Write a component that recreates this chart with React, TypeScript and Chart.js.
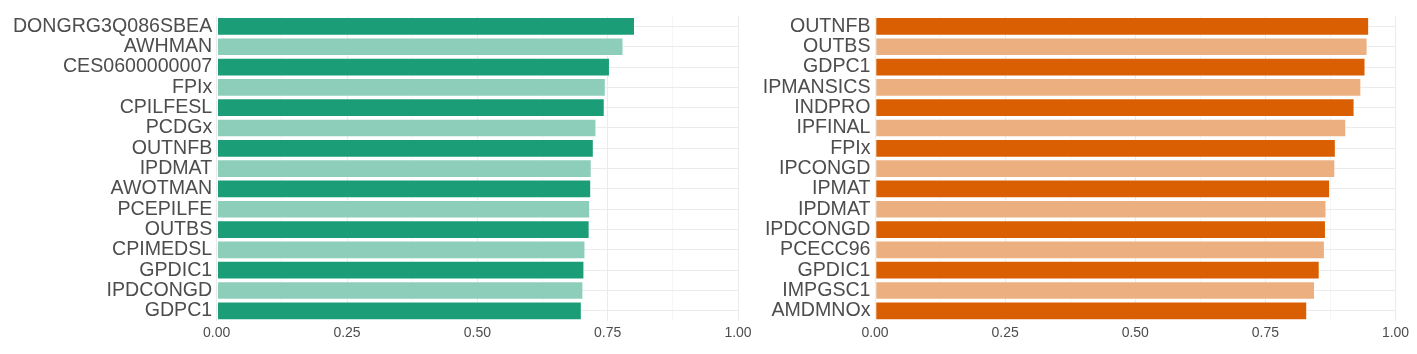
import React, { useEffect, useRef } from "react";
import { Chart, registerables } from "chart.js";
Chart.register(...registerables);

const leftCategories = [
  "DONGRG3Q086SBEA", "AWHMAN", "CES0600000007", "FPIx", "CPILFESL",
  "PCDGx", "OUTNFB", "IPDMAT", "AWOTMAN", "PCEPILFE",
  "OUTBS", "CPIMEDSL", "GPDIC1", "IPDCONGD", "GDPC1",
];
const leftValues = [
  0.802, 0.780, 0.754, 0.746, 0.744,
  0.728, 0.723, 0.719, 0.718, 0.716,
  0.715, 0.707, 0.705, 0.703, 0.700,
];
const rightCategories = [
  "OUTNFB", "OUTBS", "GDPC1", "IPMANSICS", "INDPRO",
  "IPFINAL", "FPIx", "IPCONGD", "IPMAT", "IPDMAT",
  "IPDCONGD", "PCECC96", "GPDIC1", "IMPGSC1", "AMDMNOx",
];
const rightValues = [
  0.949, 0.946, 0.942, 0.934, 0.921,
  0.905, 0.885, 0.884, 0.874, 0.867,
  0.866, 0.864, 0.854, 0.845, 0.830,
];
const xTickValues = [0, 0.25, 0.5, 0.75, 1];
const xTickLabels = ["0.00", "0.25", "0.50", "0.75", "1.00"];

const FONT = "'Liberation Sans', Arial, Helvetica, sans-serif";
const TEXT = "#4D4D4D";

function majorIndex(v: number) {
  return xTickValues.findIndex((t) => Math.abs(t - v) < 1e-6);
}

function makePanel(
  canvas: HTMLCanvasElement,
  cats: string[],
  vals: number[],
  dark: string,
  light: string,
  yAxisWidth: number,
  padRight: number
) {
  return new Chart(canvas, {
    type: "bar",
    data: {
      labels: cats,
      datasets: [
        {
          data: vals,
          backgroundColor: vals.map((_, i) => (i % 2 === 0 ? dark : light)),
          borderColor: "rgba(255,255,255,0.55)",
          borderWidth: 0.8,
          borderSkipped: false,
          barPercentage: 0.9,
          categoryPercentage: 1.0,
        },
      ],
    },
    options: {
      indexAxis: "y",
      responsive: false,
      animation: false,
      devicePixelRatio: 1,
      layout: { padding: { left: 0, right: padRight, top: 14, bottom: 2 } },
      plugins: { legend: { display: false }, tooltip: { enabled: false } },
      scales: {
        x: {
          type: "linear",
          min: 0,
          max: 1,
          border: { display: false },
          grid: {
            drawTicks: false,
            color: (ctx: any) =>
              ctx.tick && majorIndex(ctx.tick.value) >= 0 ? "#EBEBEB" : "#F3F3F3",
            lineWidth: (ctx: any) =>
              ctx.tick && majorIndex(ctx.tick.value) >= 0 ? 1 : 0.8,
          },
          ticks: {
            stepSize: 0.125,
            autoSkip: false,
            maxRotation: 0,
            padding: 4,
            color: TEXT,
            font: { family: FONT, size: 14 },
            callback: (v: any) => {
              const i = majorIndex(Number(v));
              return i >= 0 ? xTickLabels[i] : "";
            },
          },
          afterFit: (s: any) => {
            s.height = 31;
          },
        },
        y: {
          type: "category",
          offset: true,
          border: { display: false },
          grid: { offset: false, drawTicks: false, color: "#EBEBEB", lineWidth: 1 },
          ticks: {
            autoSkip: false,
            padding: 4.5,
            color: TEXT,
            font: { family: FONT, size: 19.6 },
          },
          afterFit: (s: any) => {
            s.width = yAxisWidth;
          },
        },
      },
    },
  } as any);
}

export default function App() {
  const leftRef = useRef<HTMLCanvasElement>(null);
  const rightRef = useRef<HTMLCanvasElement>(null);

  useEffect(() => {
    const l = makePanel(leftRef.current!, leftCategories, leftValues, "#1B9E77", "#8DCEBB", 216.7, 22);
    const r = makePanel(rightRef.current!, rightCategories, rightValues, "#D95F02", "#ECAF80", 135, 21.5);
    return () => {
      l.destroy();
      r.destroy();
    };
  }, []);

  return (
    <div style={{ position: "fixed", left: 0, top: 0, width: 1417, height: 354, background: "#FFFFFF" }}>
      <canvas
        ref={leftRef}
        width={760}
        height={354}
        style={{ position: "absolute", left: 0, top: 0, width: 760, height: 354 }}
      />
      <canvas
        ref={rightRef}
        width={677}
        height={354}
        style={{ position: "absolute", left: 740, top: 0, width: 677, height: 354 }}
      />
    </div>
  );
}
